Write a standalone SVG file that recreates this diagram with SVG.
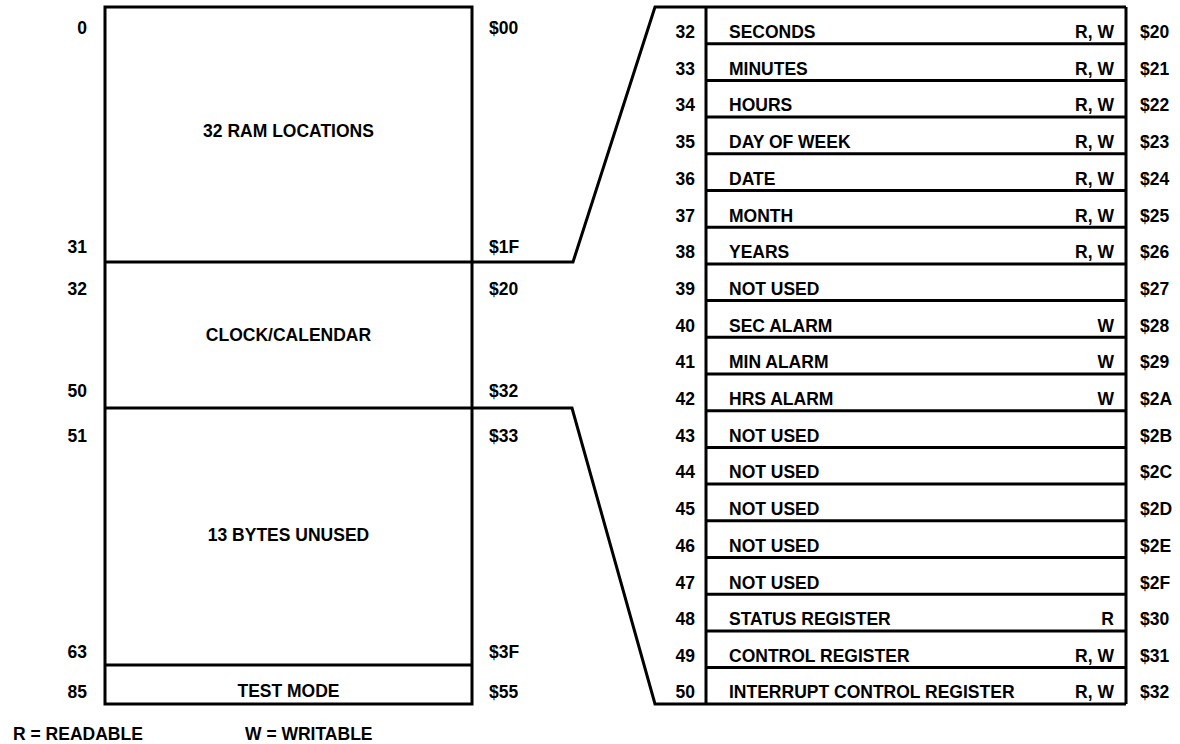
<svg xmlns="http://www.w3.org/2000/svg" width="1180" height="744" viewBox="0 0 1180 744">
<style>
text{font-family:"Liberation Sans",Arial,sans-serif;font-weight:bold;font-size:17.5px;fill:#000}
.ln{fill:none;stroke:#000;stroke-width:3}
.e{text-anchor:end}
.m{text-anchor:middle}
</style>
<rect width="1180" height="744" fill="#fff"/>
<g id="memory-map">
<rect class="ln" x="105" y="7" width="367" height="697"/>
<line class="ln" x1="105" y1="665" x2="472" y2="665"/>
</g>
<g id="ram"><text class="m" x="288.5" y="137">32 RAM LOCATIONS</text>
<text class="e" x="87" y="34">0</text><text x="489" y="34">$00</text>
<text class="e" x="87" y="253">31</text><text x="489" y="253">$1F</text></g>
<g id="clock"><text class="m" x="288.5" y="341">CLOCK/CALENDAR</text>
<text class="e" x="87" y="295">32</text><text x="489" y="295">$20</text>
<text class="e" x="87" y="397">50</text><text x="489" y="397">$32</text></g>
<g id="unused"><text class="m" x="288.5" y="541">13 BYTES UNUSED</text>
<text class="e" x="87" y="442">51</text><text x="489" y="442">$33</text>
<text class="e" x="87" y="658">63</text><text x="489" y="658">$3F</text></g>
<g id="test"><text class="m" x="288.5" y="697">TEST MODE</text>
<text class="e" x="87" y="698">85</text><text x="489" y="698">$55</text></g>
<g id="connectors">
<polyline class="ln" points="105,262 573,262 655,7 1126,7"/>
<polyline class="ln" points="105,408 572,408 655,704 1126,704"/>
</g>
<g id="register-table">
<line class="ln" x1="706" y1="7" x2="706" y2="704"/>
<line class="ln" x1="1126" y1="7" x2="1126" y2="704"/>
<g class="rows">
<line class="ln" x1="706" y1="43.7" x2="1126" y2="43.7"/>
<line class="ln" x1="706" y1="80.4" x2="1126" y2="80.4"/>
<line class="ln" x1="706" y1="117.1" x2="1126" y2="117.1"/>
<line class="ln" x1="706" y1="153.8" x2="1126" y2="153.8"/>
<line class="ln" x1="706" y1="190.5" x2="1126" y2="190.5"/>
<line class="ln" x1="706" y1="227.2" x2="1126" y2="227.2"/>
<line class="ln" x1="706" y1="263.9" x2="1126" y2="263.9"/>
<line class="ln" x1="706" y1="300.6" x2="1126" y2="300.6"/>
<line class="ln" x1="706" y1="337.3" x2="1126" y2="337.3"/>
<line class="ln" x1="706" y1="374" x2="1126" y2="374"/>
<line class="ln" x1="706" y1="410.7" x2="1126" y2="410.7"/>
<line class="ln" x1="706" y1="447.4" x2="1126" y2="447.4"/>
<line class="ln" x1="706" y1="484.1" x2="1126" y2="484.1"/>
<line class="ln" x1="706" y1="520.8" x2="1126" y2="520.8"/>
<line class="ln" x1="706" y1="557.5" x2="1126" y2="557.5"/>
<line class="ln" x1="706" y1="594.2" x2="1126" y2="594.2"/>
<line class="ln" x1="706" y1="630.9" x2="1126" y2="630.9"/>
<line class="ln" x1="706" y1="667.6" x2="1126" y2="667.6"/>
</g>
</g>
<g id="r32"><text class="e" x="695" y="38">32</text><text x="729" y="38">SECONDS</text><text class="e" x="1114" y="38">R, W</text><text x="1140" y="38">$20</text></g>
<g id="r33"><text class="e" x="695" y="74.7">33</text><text x="729" y="74.7">MINUTES</text><text class="e" x="1114" y="74.7">R, W</text><text x="1140" y="74.7">$21</text></g>
<g id="r34"><text class="e" x="695" y="111.4">34</text><text x="729" y="111.4">HOURS</text><text class="e" x="1114" y="111.4">R, W</text><text x="1140" y="111.4">$22</text></g>
<g id="r35"><text class="e" x="695" y="148.1">35</text><text x="729" y="148.1">DAY OF WEEK</text><text class="e" x="1114" y="148.1">R, W</text><text x="1140" y="148.1">$23</text></g>
<g id="r36"><text class="e" x="695" y="184.8">36</text><text x="729" y="184.8">DATE</text><text class="e" x="1114" y="184.8">R, W</text><text x="1140" y="184.8">$24</text></g>
<g id="r37"><text class="e" x="695" y="221.5">37</text><text x="729" y="221.5">MONTH</text><text class="e" x="1114" y="221.5">R, W</text><text x="1140" y="221.5">$25</text></g>
<g id="r38"><text class="e" x="695" y="258.2">38</text><text x="729" y="258.2">YEARS</text><text class="e" x="1114" y="258.2">R, W</text><text x="1140" y="258.2">$26</text></g>
<g id="r39"><text class="e" x="695" y="294.9">39</text><text x="729" y="294.9">NOT USED</text><text x="1140" y="294.9">$27</text></g>
<g id="r40"><text class="e" x="695" y="331.6">40</text><text x="729" y="331.6">SEC ALARM</text><text class="e" x="1114" y="331.6">W</text><text x="1140" y="331.6">$28</text></g>
<g id="r41"><text class="e" x="695" y="368.3">41</text><text x="729" y="368.3">MIN ALARM</text><text class="e" x="1114" y="368.3">W</text><text x="1140" y="368.3">$29</text></g>
<g id="r42"><text class="e" x="695" y="405">42</text><text x="729" y="405">HRS ALARM</text><text class="e" x="1114" y="405">W</text><text x="1140" y="405">$2A</text></g>
<g id="r43"><text class="e" x="695" y="441.7">43</text><text x="729" y="441.7">NOT USED</text><text x="1140" y="441.7">$2B</text></g>
<g id="r44"><text class="e" x="695" y="478.4">44</text><text x="729" y="478.4">NOT USED</text><text x="1140" y="478.4">$2C</text></g>
<g id="r45"><text class="e" x="695" y="515.1">45</text><text x="729" y="515.1">NOT USED</text><text x="1140" y="515.1">$2D</text></g>
<g id="r46"><text class="e" x="695" y="551.8">46</text><text x="729" y="551.8">NOT USED</text><text x="1140" y="551.8">$2E</text></g>
<g id="r47"><text class="e" x="695" y="588.5">47</text><text x="729" y="588.5">NOT USED</text><text x="1140" y="588.5">$2F</text></g>
<g id="r48"><text class="e" x="695" y="625.2">48</text><text x="729" y="625.2">STATUS REGISTER</text><text class="e" x="1114" y="625.2">R</text><text x="1140" y="625.2">$30</text></g>
<g id="r49"><text class="e" x="695" y="661.9">49</text><text x="729" y="661.9">CONTROL REGISTER</text><text class="e" x="1114" y="661.9">R, W</text><text x="1140" y="661.9">$31</text></g>
<g id="r50"><text class="e" x="695" y="698">50</text><text x="729" y="698">INTERRUPT CONTROL REGISTER</text><text class="e" x="1114" y="698">R, W</text><text x="1140" y="698">$32</text></g>
<g id="legend"><text x="13" y="740">R = READABLE</text><text x="245" y="740">W = WRITABLE</text></g>
</svg>
